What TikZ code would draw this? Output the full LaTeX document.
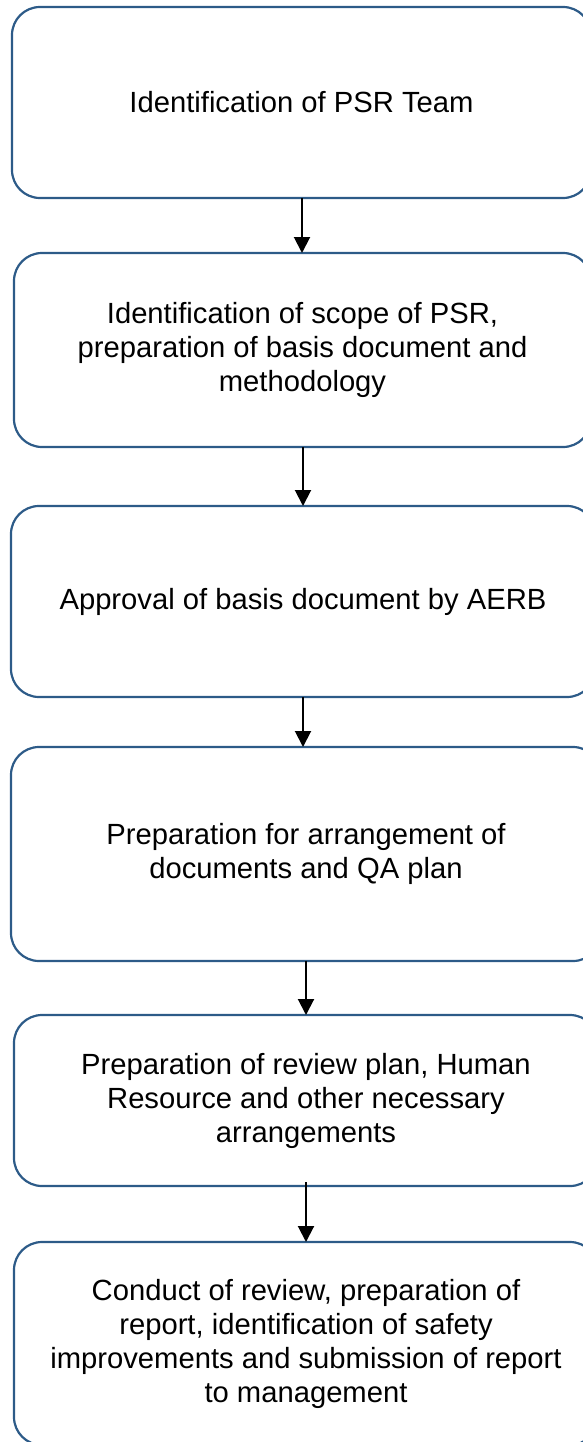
\documentclass[tikz,border=0pt]{standalone}
\usepackage{fontspec}
\setmainfont{Liberation Sans}
\usetikzlibrary{arrows.meta}
\definecolor{boxblue}{HTML}{2D5B88}
\begin{document}
\begin{tikzpicture}[x=1pt,y=-1pt,
  flowbox/.style={draw=boxblue, line width=2.2pt, rounded corners=28pt,
    rectangle, align=center, inner sep=0pt, outer sep=0pt,
    font=\fontsize{29.2}{34}\selectfont},
  flowarrow/.style={draw=black, line width=2pt, -{Triangle[width=16pt,length=16pt]}}]
\useasboundingbox (0,0) rectangle (582,1442);
\node[flowbox, minimum width=579pt, minimum height=191pt] (b1) at (301.5,102.5)
  {Identification of PSR Team};
\node[flowbox, minimum width=577pt, minimum height=194pt] (b2) at (302.5,350)
  {Identification of scope of PSR,\\preparation of basis document and\\methodology};
\node[flowbox, minimum width=584pt, minimum height=191pt] (b3) at (303,601.5)
  {Approval of basis document by AERB};
\node[flowbox, minimum width=590pt, minimum height=214pt] (b4) at (306,854)
  {Preparation for arrangement of\\documents and QA plan};
\node[flowbox, minimum width=584pt, minimum height=171pt] (b5) at (306,1100.5)
  {Preparation of review plan, Human\\Resource and other necessary\\arrangements};
\node[flowbox, minimum width=584pt, minimum height=203pt] (b6) at (306,1343.5)
  {Conduct of review, preparation of\\report, identification of safety\\improvements and submission of report\\to management};
\draw[flowarrow] (302,198) coordinate (a1) -- (a1 |- b2.north);
\draw[flowarrow] (b2.south -| 303,0) -- (b3.north -| 303,0);
\draw[flowarrow] (b3.south -| 303,0) -- (b4.north -| 303,0);
\draw[flowarrow] (b4.south) -- (b5.north);
\draw[flowarrow] ([yshift=4pt]b5.south) -- (b6.north);
\end{tikzpicture}
\end{document}
